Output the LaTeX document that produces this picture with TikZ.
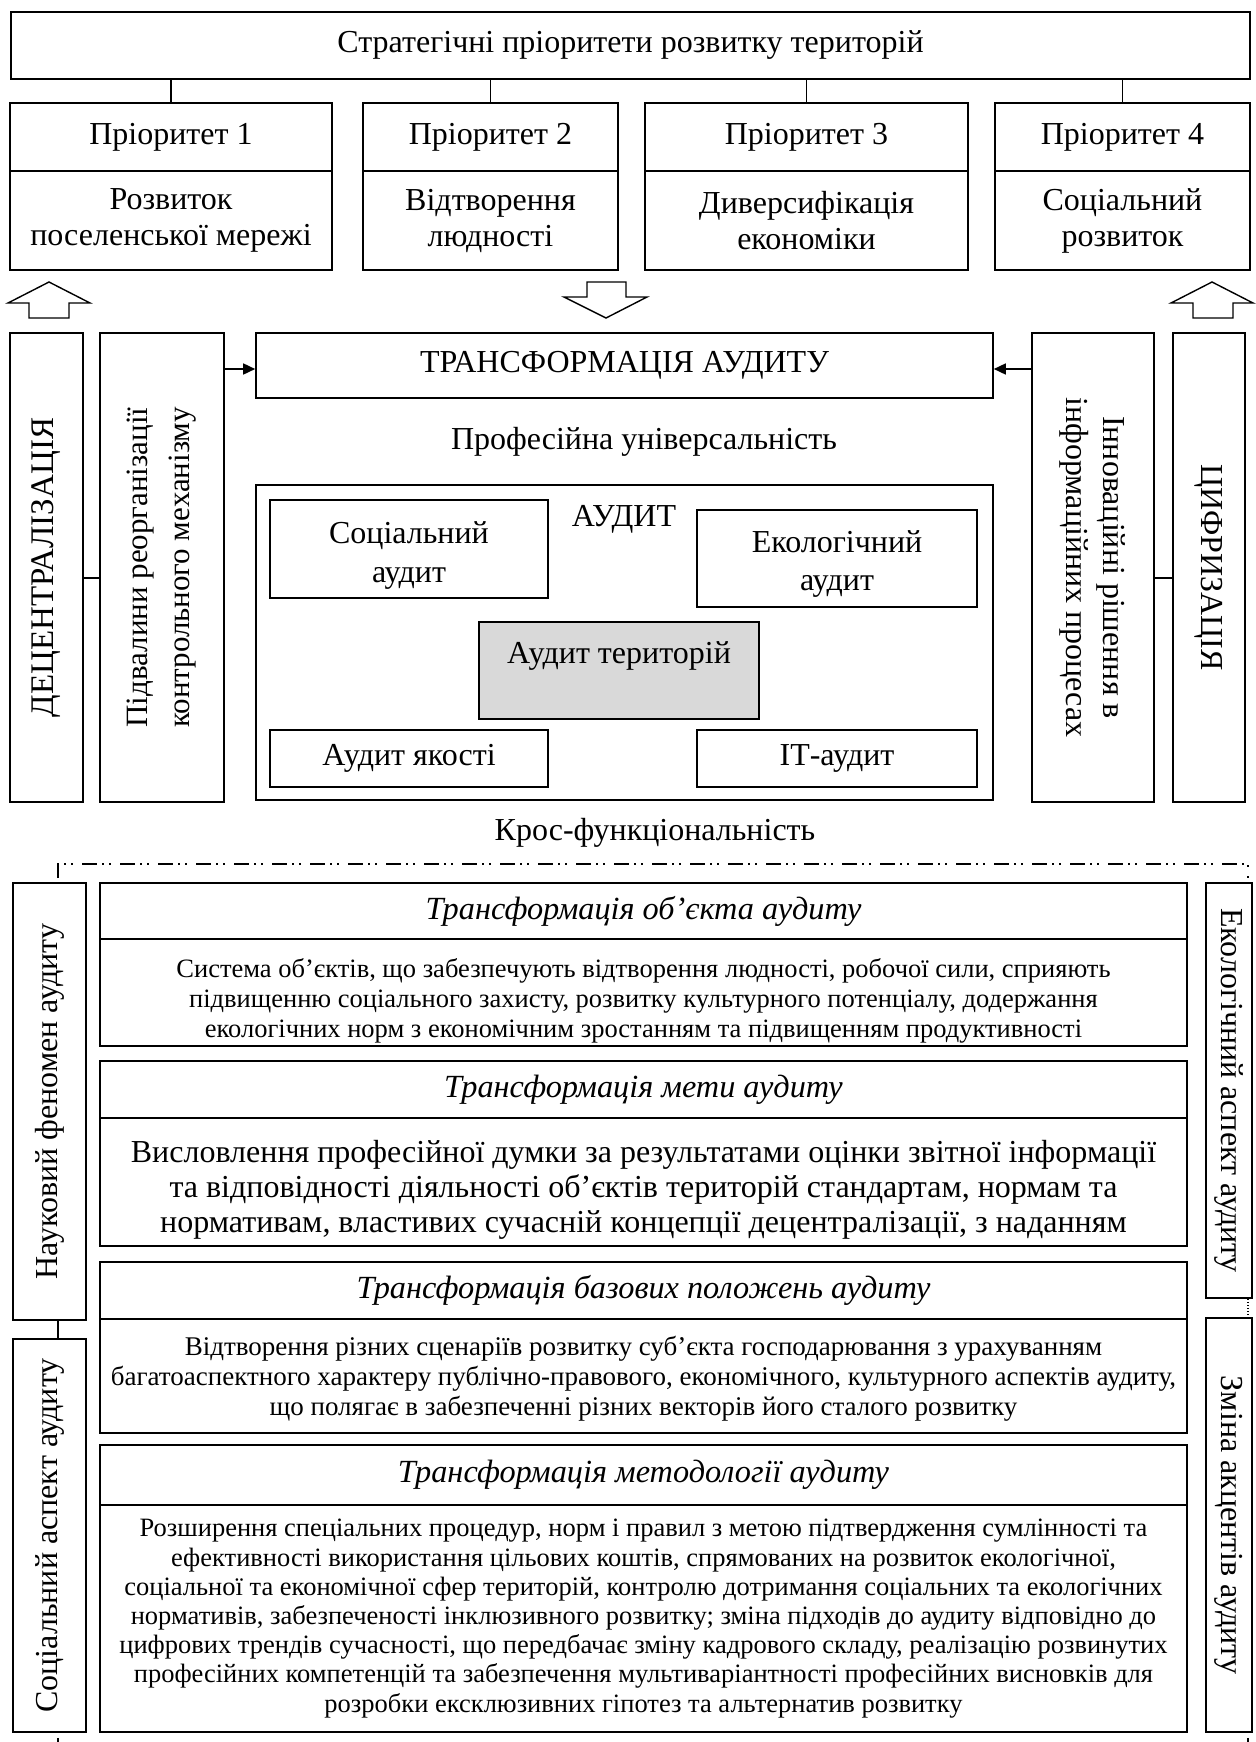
\documentclass[tikz,border=0pt]{standalone}
\usepackage{fontspec}
\setmainfont{Liberation Serif}
\usetikzlibrary{arrows.meta}

\begin{document}
\begin{tikzpicture}[x=1pt,y=-1pt,
  box/.style={draw, line width=1.6pt, inner sep=0pt, align=center},
  txtbig/.style={font=\fontsize{32}{36}\selectfont, align=center, inner sep=0pt},
  txtsmall/.style={font=\fontsize{26}{30}\selectfont, align=center, inner sep=0pt},
  txthead/.style={font=\fontsize{32.3}{36}\selectfont\itshape, align=center, inner sep=0pt},
  link/.style={line width=1.2pt},
  feed/.style={line width=1.6pt, -{Triangle[length=12pt,width=11pt]}},
  blockarrow/.style={draw, line width=1.4pt, fill=white},
  bracket/.style={line width=1.1pt, dash pattern=on 15pt off 5pt on 2pt off 5pt on 2pt off 9pt}
]
\useasboundingbox (0,0) rectangle (1255,1742);

% ---------- strategic priorities ----------
\node[box, txtbig, minimum width=1239pt, minimum height=67pt] (top) at (630.5,45.5)
  {Стратегічні пріоритети розвитку територій};

\node[box, txtbig, minimum width=322pt, minimum height=68pt] (p1h) at (171,137) {Пріоритет 1};
\node[box, txtbig, minimum width=322pt, minimum height=99pt] (p1b) at (171,220.5) {Розвиток\\поселенської мережі};
\node[box, txtbig, minimum width=255pt, minimum height=68pt] (p2h) at (490.5,137) {Пріоритет 2};
\node[box, txtbig, minimum width=255pt, minimum height=99pt] (p2b) at (490.5,220.5) {Відтворення\\людності};
\node[box, txtbig, minimum width=323pt, minimum height=68pt] (p3h) at (806.5,137) {Пріоритет 3};
\node[box, txtbig, minimum width=323pt, minimum height=99pt] (p3b) at (806.5,220.5) {Диверсифікація\\економіки};
\node[box, txtbig, minimum width=255pt, minimum height=68pt] (p4h) at (1122.5,137) {Пріоритет 4};
\node[box, txtbig, minimum width=255pt, minimum height=99pt] (p4b) at (1122.5,220.5) {Соціальний\\розвиток};

\foreach \p in {p1h,p2h,p3h,p4h}
  \draw[link] (\p.north |- top.south) -- (\p.north);

% ---------- block arrows ----------
\draw[blockarrow] (49,282) -- (90,303) -- (69,303) -- (69,318) -- (29,318) -- (29,303) -- (8,303) -- cycle;
\draw[blockarrow] (1212,282) -- (1253,303) -- (1233,303) -- (1233,318) -- (1193,318) -- (1193,303) -- (1171,303) -- cycle;
\draw[blockarrow] (587,282) -- (626,282) -- (626,297) -- (647,297) -- (606,318) -- (564,297) -- (587,297) -- cycle;

% ---------- side columns and transformation ----------
\node[box, minimum width=73pt, minimum height=469pt] (dec) at (46.5,567.5) {};
\node[txtbig, rotate=90, font=\fontsize{33}{36}\selectfont] (dectxt) at (dec.center) {ДЕЦЕНТРАЛІЗАЦІЯ};
\node[box, minimum width=124pt, minimum height=469pt] (pid) at (162,567.5) {};
\node[txtbig, rotate=90, font=\fontsize{31}{42}\selectfont] (pidtxt) at (pid.center) {Підвалини реорганізації\\контрольного механізму};
\node[box, minimum width=122pt, minimum height=469pt] (inn) at (1093,567.5) {};
\node[txtbig, rotate=-90, font=\fontsize{32}{37}\selectfont] (inntxt) at (inn.center) {Інноваційні рішення в\\інформаційних процесах};
\node[box, minimum width=72pt, minimum height=469pt] (cyf) at (1209,567.5) {};
\node[txtbig, rotate=-90] (cyftxt) at (cyf.center) {ЦИФРИЗАЦІЯ};

\node[box, txtbig, minimum width=737pt, minimum height=65pt] (trans) at (624.5,365.5) {ТРАНСФОРМАЦІЯ АУДИТУ};

\coordinate (yarrow) at (0,369);
\coordinate (ylink) at (0,578);
\draw[feed] (pid.east |- yarrow) -- (trans.west |- yarrow);
\draw[feed] (inn.west |- yarrow) -- (trans.east |- yarrow);
\draw[link] (dec.east |- ylink) -- (pid.west |- ylink);
\draw[link] (inn.east |- ylink) -- (cyf.west |- ylink);

\node[txtbig] (prof) at (644,442) {Професійна універсальність};

% ---------- audit block ----------
\node[box, minimum width=737pt, minimum height=315pt] (audit) at (624.5,642.5) {};
\node[txtbig] (audittxt) at (624,519) {АУДИТ};
\node[box, minimum width=278pt, minimum height=98pt] (soc) at (409,549) {};
\node[txtbig, font=\fontsize{32}{39}\selectfont] (soctxt) at (409,555) {Соціальний\\аудит};
\node[box, minimum width=280pt, minimum height=97pt] (eco) at (837,558.5) {};
\node[txtbig, font=\fontsize{32}{38}\selectfont] (ecotxt) at (837,564) {Екологічний\\аудит};
\node[box, fill=black!15, minimum width=280pt, minimum height=97pt] (ter) at (619,670.5) {};
\node[txtbig] (tertxt) at (619,656) {Аудит територій};
\node[box, txtbig, minimum width=278pt, minimum height=57pt] (yak) at (409,758.5) {Аудит якості};
\node[box, txtbig, minimum width=280pt, minimum height=57pt] (itaud) at (837,758.5) {ІТ-аудит};

\node[txtbig] (kros) at (655,833) {Крос-функціональність};

% ---------- lower side columns ----------
\node[box, minimum width=73pt, minimum height=437pt] (nauk) at (49.5,1101.5) {};
\node[txtbig, rotate=90] (nauktxt) at (nauk.center) {Науковий феномен аудиту};
\node[box, minimum width=73pt, minimum height=393pt] (socasp) at (49.5,1535.5) {};
\node[txtbig, rotate=90] (socasptxt) at (socasp.center) {Соціальний аспект аудиту};
\node[box, minimum width=46pt, minimum height=415pt] (ecoasp) at (1229,1090.5) {};
\node[txtbig, rotate=-90] (ecoasptxt) at (ecoasp.center) {Екологічний аспект аудиту};
\node[box, minimum width=46pt, minimum height=414pt] (zmina) at (1229,1525) {};
\node[txtbig, rotate=-90] (zminatxt) at (zmina.center) {Зміна акцентів аудиту};

\coordinate (xl) at (58,0);
\coordinate (xr) at (1248,0);
\coordinate (brl) at (58,864);
\coordinate (brr) at (1248,864);
\coordinate (endl) at (58,1742);
\coordinate (endr) at (1248,1742);
\draw[bracket] (brl |- 0,878) -- (brl) -- (brr) -- (brr |- 0,878);
\draw[link] (nauk.south -| xl) -- (socasp.north -| xl);
\draw[line width=1.1pt, dotted] (ecoasp.south -| xr) -- (zmina.north -| xr);
\draw[link] (socasp.south -| xl) ++(0,5) -- (endl);
\draw[link] (zmina.south -| xr) ++(0,5) -- (endr);

% ---------- transformation blocks ----------
\node[box, txthead, minimum width=1087pt, minimum height=56pt] (ah) at (643.5,911) {Трансформація об’єкта аудиту};
\node[box, minimum width=1087pt, minimum height=107pt] (ab) at (643.5,992.5) {};
\node[txtsmall, font=\fontsize{26.5}{30}\selectfont] (abtxt) at (643.5,1001)
  {Система об’єктів, що забезпечують відтворення людності, робочої сили, сприяють\\
   підвищенню соціального захисту, розвитку культурного потенціалу, додержання\\
   екологічних норм з економічним зростанням та підвищенням продуктивності};

\node[box, txthead, minimum width=1087pt, minimum height=57pt] (bh) at (643.5,1089.5) {Трансформація мети аудиту};
\node[box, minimum width=1087pt, minimum height=128pt] (bb) at (643.5,1182) {};
\node[txtbig, font=\fontsize{32}{35}\selectfont] (bbtxt) at (643.5,1190)
  {Висловлення професійної думки за результатами оцінки звітної інформації\\
   та відповідності діяльності об’єктів територій стандартам, нормам та\\
   нормативам, властивих сучасній концепції децентралізації, з наданням};

\node[box, txthead, minimum width=1087pt, minimum height=57pt] (ch) at (643.5,1290.5) {Трансформація базових положень аудиту};
\node[box, minimum width=1087pt, minimum height=114pt] (cb) at (643.5,1376) {};
\node[txtsmall, font=\fontsize{27}{30}\selectfont] (cbtxt) at (643.5,1379)
  {Відтворення різних сценаріїв розвитку суб’єкта господарювання з урахуванням\\
   багатоаспектного характеру публічно-правового, економічного, культурного аспектів аудиту,\\
   що полягає в забезпеченні різних векторів його сталого розвитку};

\node[box, txthead, minimum width=1087pt, minimum height=60pt] (dh) at (643.5,1475) {Трансформація методології аудиту};
\node[box, txtsmall, font=\fontsize{26.5}{29.2}\selectfont, minimum width=1087pt, minimum height=227pt] (db) at (643.5,1618.5)
  {Розширення спеціальних процедур, норм і правил з метою підтвердження сумлінності та\\
   ефективності використання цільових коштів, спрямованих на розвиток екологічної,\\
   соціальної та економічної сфер територій, контролю дотримання соціальних та екологічних\\
   нормативів, забезпеченості інклюзивного розвитку; зміна підходів до аудиту відповідно до\\
   цифрових трендів сучасності, що передбачає зміну кадрового складу, реалізацію розвинутих\\
   професійних компетенцій та забезпечення мультиваріантності професійних висновків для\\
   розробки ексклюзивних гіпотез та альтернатив розвитку};
\end{tikzpicture}
\end{document}
